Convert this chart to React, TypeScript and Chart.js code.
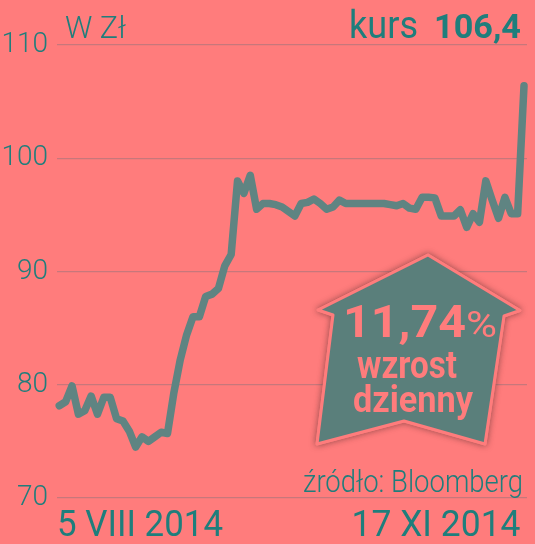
import { useEffect, useRef } from 'react';
import { Chart, registerables } from 'chart.js';

Chart.register(...registerables);

// closing prices (zł), trading days from 5 VIII 2014 to 17 XI 2014
const prices = [
  78.15, 78.5, 79.9, 77.4, 77.7, 79.0, 77.4, 78.9, 78.9, 77.0,
  76.8, 75.9, 74.5, 75.4, 75.0, 75.4, 75.8, 75.7, 79.3, 82.2,
  84.4, 86.0, 86.0, 87.8, 88.0, 88.5, 90.5, 91.5, 98.0, 96.9,
  98.5, 95.5, 96.0, 96.0, 95.9, 95.7, 95.3, 94.9, 96.0, 96.1,
  96.4, 96.0, 95.5, 95.7, 96.3, 96.0, 96.0, 96.0, 96.0, 96.0,
  96.0, 96.0, 95.9, 95.8, 96.0, 95.6, 95.5, 96.55, 96.55, 96.5,
  94.9, 94.9, 94.9, 95.45, 93.9, 95.1, 94.35, 98.0, 96.3, 94.7,
  96.55, 95.1, 95.1, 106.4,
];
const days = prices.map((_, i) => i);
const yMin = 70;
const yMax = 110;
const yStep = 10;
const dateLabels = ['5 VIII 2014', '17 XI 2014'];
const unitLabel = 'W Zł';
const rateLabel = 'kurs';
const rateValue = '106,4';
const changeValue = '11,74';
const changeUnit = '%';
const changeLines = ['wzrost', 'dzienny'];
const sourceLabel = 'źródło: Bloomberg';

const BG = '#ff7c7c';
const TEAL = '#1f7e7c';
const LINE = '#5f8482';
const BADGE = '#5a7f7b';
const GRID = '#c7777b';
const FONT = 'Roboto, "Noto Sans", sans-serif';

function fitText(
  ctx: CanvasRenderingContext2D,
  text: string,
  x: number,
  baseline: number,
  font: string,
  width: number,
  color: string,
  align: 'left' | 'right' | 'center' = 'left'
) {
  ctx.save();
  ctx.font = font;
  ctx.textAlign = 'left';
  ctx.textBaseline = 'alphabetic';
  const m = ctx.measureText(text).width || 1;
  const sx = width / m;
  let left = x;
  if (align === 'right') left = x - width;
  if (align === 'center') left = x - width / 2;
  ctx.translate(left, baseline);
  ctx.scale(sx, 1);
  ctx.fillStyle = color;
  ctx.fillText(text, 0, 0);
  ctx.restore();
}

const bgPlugin = {
  id: 'bg',
  beforeDraw(chart: any) {
    const { ctx, width, height } = chart;
    ctx.save();
    ctx.fillStyle = BG;
    ctx.fillRect(0, 0, width, height);
    ctx.restore();
  },
};

const decorPlugin = {
  id: 'decor',
  afterDraw(chart: any) {
    const ctx: CanvasRenderingContext2D = chart.ctx;
    const area = chart.chartArea;
    // header
    fitText(ctx, unitLabel, 65, 38, `300 32px ${FONT}`, 61, TEAL);
    fitText(ctx, rateLabel, 349, 38, `400 38px ${FONT}`, 69, TEAL);
    fitText(ctx, rateValue, 521, 38, `700 33px ${FONT}`, 87, TEAL, 'right');
    // dates
    fitText(ctx, dateLabels[0], area.left, 536, `400 36px ${FONT}`, 166, TEAL);
    fitText(ctx, dateLabels[1], 520.5, 536, `400 36px ${FONT}`, 169, TEAL, 'right');
    // source
    fitText(ctx, sourceLabel, 523, 491.5, `300 32px ${FONT}`, 220, TEAL, 'right');

    // badge
    const pts: [number, number][] = [
      [428, 255], [520, 310.5], [504, 316], [485, 444],
      [404, 421], [317, 444], [333, 315], [318, 310],
    ];
    const path = () => {
      ctx.beginPath();
      pts.forEach(([x, y], i) => (i ? ctx.lineTo(x, y) : ctx.moveTo(x, y)));
      ctx.closePath();
    };
    ctx.save();
    ctx.lineJoin = 'round';
    ctx.shadowColor = 'rgba(90,50,50,0.55)';
    ctx.shadowBlur = 6;
    path();
    ctx.fillStyle = BADGE;
    ctx.fill();
    ctx.lineWidth = 3;
    ctx.strokeStyle = BG;
    ctx.stroke();
    ctx.shadowColor = 'transparent';
    ctx.shadowBlur = 0;
    path();
    ctx.fill();
    ctx.stroke();
    ctx.restore();

    fitText(ctx, changeValue, 343, 337, `700 44px ${FONT}`, 123, BG);
    fitText(ctx, changeUnit, 466, 337, `400 36px ${FONT}`, 31, BG);
    fitText(ctx, changeLines[0], 357, 378, `700 38px ${FONT}`, 100, BG);
    fitText(ctx, changeLines[1], 353, 412, `700 36px ${FONT}`, 120, BG);
  },
};

export default function App() {
  const ref = useRef<HTMLCanvasElement>(null);
  useEffect(() => {
    document.body.style.margin = '0';
    document.body.style.background = BG;
    const canvas = ref.current;
    if (!canvas) return;
    const chart = new Chart(canvas, {
      type: 'line',
      data: {
        datasets: [
          {
            data: days.map((d, i) => ({ x: d, y: prices[i] })),
            borderColor: LINE,
            borderWidth: 7.5,
            borderJoinStyle: 'round',
            borderCapStyle: 'round',
            pointRadius: 0,
            tension: 0,
            fill: false,
            clip: false as any,
          },
        ],
      },
      options: {
        responsive: false,
        animation: false,
        events: [],
        layout: { padding: { left: 0, top: 45, right: 8, bottom: 46 } },
        plugins: { legend: { display: false }, tooltip: { enabled: false } },
        scales: {
          x: { type: 'linear', display: false, min: -0.36, max: 73.47 },
          y: {
            min: yMin,
            max: yMax,
            border: { display: false },
            grid: { color: GRID, lineWidth: 1.2, drawTicks: false },
            afterFit: (s: any) => {
              s.width = 57;
            },
            ticks: {
              stepSize: yStep,
              padding: 9,
              color: TEAL,
              font: { family: FONT, size: 28, weight: 300 as any },
              callback: (v: any) => String(v),
            },
          },
        },
      },
      plugins: [bgPlugin, decorPlugin],
    });
    return () => chart.destroy();
  }, []);
  return (
    <div style={{ position: 'fixed', left: 0, top: 0, width: 535, height: 544 }}>
      <canvas ref={ref} width={535} height={544} style={{ display: 'block' }} />
    </div>
  );
}
